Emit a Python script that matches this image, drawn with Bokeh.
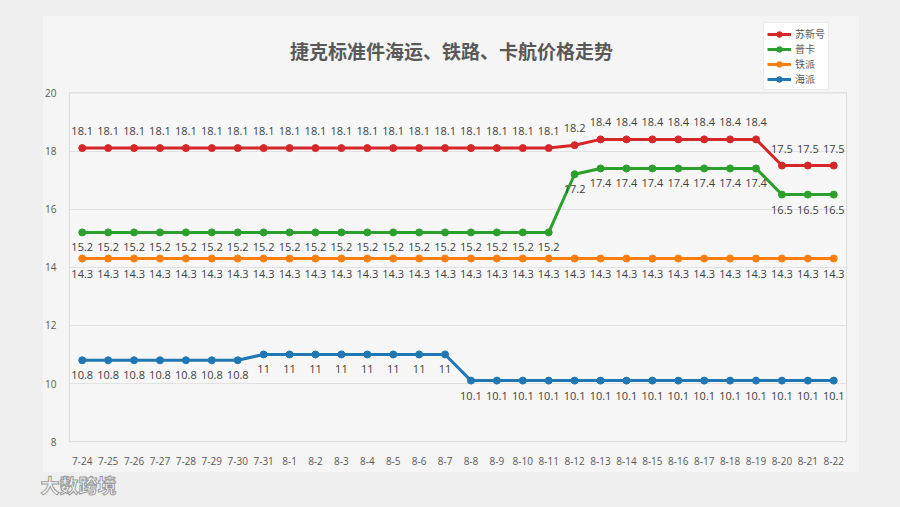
from bokeh.plotting import figure
from bokeh.models import (FixedTicker, Legend, LegendItem, ColumnDataSource, Range1d,
                          Title, Label)
from bokeh.embed import file_html
from bokeh.resources import INLINE
from bokeh.core.properties import value

dates = ["7-24", "7-25", "7-26", "7-27", "7-28", "7-29", "7-30", "7-31",
         "8-1", "8-2", "8-3", "8-4", "8-5", "8-6", "8-7", "8-8", "8-9", "8-10",
         "8-11", "8-12", "8-13", "8-14", "8-15", "8-16", "8-17", "8-18", "8-19",
         "8-20", "8-21", "8-22"]

suxinhao = [18.1, 18.1, 18.1, 18.1, 18.1, 18.1, 18.1, 18.1, 18.1, 18.1,
            18.1, 18.1, 18.1, 18.1, 18.1, 18.1, 18.1, 18.1, 18.1, 18.2,
            18.4, 18.4, 18.4, 18.4, 18.4, 18.4, 18.4, 17.5, 17.5, 17.5]
puka = [15.2, 15.2, 15.2, 15.2, 15.2, 15.2, 15.2, 15.2, 15.2, 15.2,
        15.2, 15.2, 15.2, 15.2, 15.2, 15.2, 15.2, 15.2, 15.2, 17.2,
        17.4, 17.4, 17.4, 17.4, 17.4, 17.4, 17.4, 16.5, 16.5, 16.5]
tiepai = [14.3, 14.3, 14.3, 14.3, 14.3, 14.3, 14.3, 14.3, 14.3, 14.3,
          14.3, 14.3, 14.3, 14.3, 14.3, 14.3, 14.3, 14.3, 14.3, 14.3,
          14.3, 14.3, 14.3, 14.3, 14.3, 14.3, 14.3, 14.3, 14.3, 14.3]
haipai = [10.8, 10.8, 10.8, 10.8, 10.8, 10.8, 10.8, 11, 11, 11,
          11, 11, 11, 11, 11, 10.1, 10.1, 10.1, 10.1, 10.1,
          10.1, 10.1, 10.1, 10.1, 10.1, 10.1, 10.1, 10.1, 10.1, 10.1]

series_names = ["苏新号", "普卡", "铁派", "海派"]
series_values = [suxinhao, puka, tiepai, haipai]
series_colors = ["#d62728", "#2ca02c", "#ff7f0e", "#1f77b4"]
label_above = [True, False, False, False]
y_ticks = [8, 10, 12, 14, 16, 18, 20]
grid_ticks = [10, 12, 14, 16, 18]
title_text = "捷克标准件海运、铁路、卡航价格走势"
logo_text = "大数跨境"

xs = list(range(len(dates)))
y_min, y_max = 8, 20
# frame extends above the plot area so the legend (drawn inside the frame) fits there
y_top = 22.456
x_lo, x_hi = -0.5, len(dates) - 0.5

card_css = ("linear-gradient(#f5f5f5, #f5f5f5) 43px 16px / 816px 456px no-repeat, #efefef")

p = figure(x_range=Range1d(x_lo - 0.03, x_hi + 0.03), y_range=Range1d(y_min - 0.03, y_top),
           width=892, height=499, output_backend="svg", toolbar_location=None,
           title_location=None,
           min_border_left=68, min_border_right=45, min_border_top=21, min_border_bottom=56,
           border_fill_color=None, background_fill_color=None, outline_line_color=None,
           styles={"background": card_css, "box-shadow": "0 0 0 12px #efefef"})

# plot area box (background + thin border)
p.quad(left=[x_lo], right=[x_hi], bottom=[y_min], top=[y_max],
       fill_color="#f7f7f7", line_color="#d9d9d9", line_width=1, level="image")

p.xaxis.ticker = FixedTicker(ticks=xs)
p.xaxis.major_label_overrides = {i: d for i, d in zip(xs, dates)}
p.yaxis.ticker = FixedTicker(ticks=y_ticks)
for ax in (p.xaxis, p.yaxis):
    ax.axis_line_color = None
    ax.major_tick_line_color = None
    ax.minor_tick_line_color = None
    ax.major_label_text_font = "Open Sans"
    ax.major_label_text_font_size = "10px"
    ax.major_label_text_color = "#595959"
p.yaxis.major_label_standoff = 6
p.xaxis.major_label_standoff = 8
p.xgrid.grid_line_color = None
p.ygrid.ticker = FixedTicker(ticks=grid_ticks)
p.ygrid.grid_line_color = "#e2e2e2"

items = []
for name, vals, col, above in zip(series_names, series_values, series_colors, label_above):
    src = ColumnDataSource(dict(x=xs, y=vals, t=[f"{v:g}" for v in vals]))
    ln = p.line("x", "y", source=src, line_color=col, line_width=3)
    sc = p.scatter("x", "y", source=src, size=7, fill_color=col, line_color=col)
    p.text("x", "y", text="t", source=src, text_align="center", text_baseline="middle",
           y_offset=-17 if above else 15, text_font=value("Open Sans"),
           text_font_size="11px", text_color="#404040")
    items.append(LegendItem(label=name, renderers=[ln, sc]))

legend = Legend(items=items, location=(695, 352), label_text_font="Noto Sans CJK SC",
                label_text_font_size="10px", label_text_color="#595959",
                glyph_width=24, glyph_height=14, label_height=14, spacing=0,
                padding=3, margin=0, label_standoff=4, background_fill_color="white",
                background_fill_alpha=1.0, border_line_color="#d9d9d9")
p.add_layout(legend)

# chart title, placed in the band above the plot area
title = Label(x=14.25, y=21.46, text=title_text, text_align="center", text_baseline="middle",
              text_font="Noto Sans CJK SC", text_font_size="19px", text_font_style="bold",
              text_color="#595959")
p.add_layout(title)

logo = Title(text=logo_text, align="left", offset=-28, standoff=3,
             text_font="Noto Sans CJK SC", text_font_size="19px", text_font_style="bold",
             text_color="#ffffff", text_outline_color="#9a9a9a")
p.add_layout(logo, "below")

open("out.html", "w").write(file_html(p, INLINE))
